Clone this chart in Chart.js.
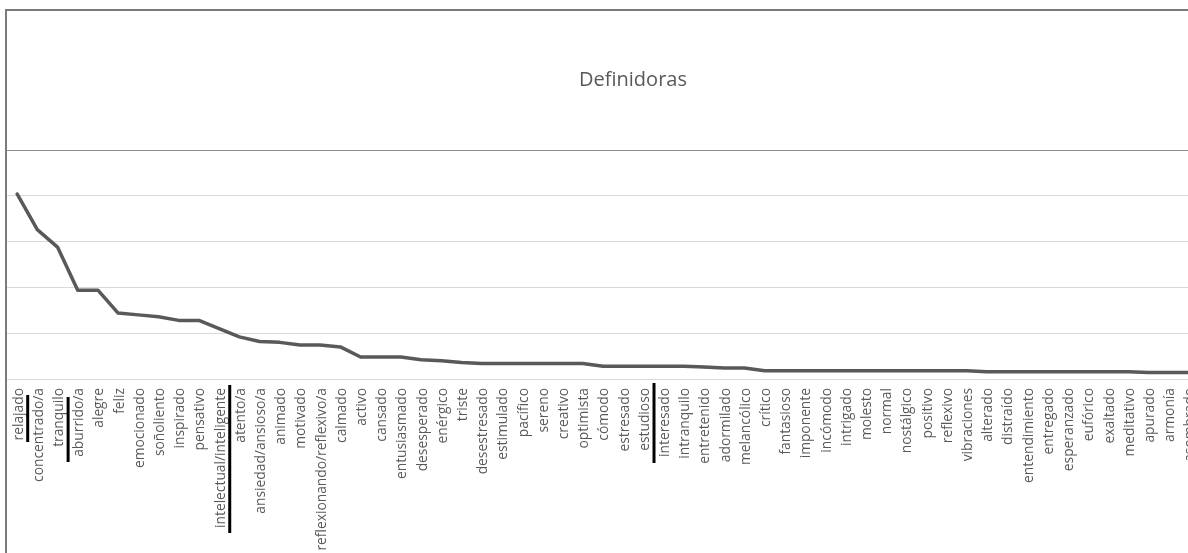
<!DOCTYPE html>
<html>
<head>
<meta charset="utf-8">
<script src="https://cdn.jsdelivr.net/npm/chart.js@4"></script>
<style>
  html, body { margin: 0; padding: 0; background: #fff; overflow: hidden; }
  #marco {
    position: absolute; left: 5px; top: 9px;
    border-left: 2px solid #7a7a7a; border-top: 2px solid #7a7a7a;
  }
  canvas { display: block; }
</style>
</head>
<body>
<div id="marco"><canvas id="definidoras" width="1252" height="560"></canvas></div>
<script>
const categorias = [
  'relajado', 'concentrado/a', 'tranquilo', 'aburrido/a', 'alegre', 'feliz',
  'emocionado', 'soñoliento', 'inspirado', 'pensativo', 'intelectual/inteligente',
  'atento/a', 'ansiedad/ansioso/a', 'animado', 'motivado', 'reflexionando/reflexivo/a',
  'calmado', 'activo', 'cansado', 'entusiasmado', 'desesperado', 'enérgico', 'triste',
  'desestresado', 'estimulado', 'pacífico', 'sereno', 'creativo', 'optimista',
  'cómodo', 'estresado', 'estudioso', 'interesado', 'intranquilo', 'entretenido',
  'adormilado', 'melancólico', 'crítico', 'fantasioso', 'imponente', 'incómodo',
  'intrigado', 'molesto', 'normal', 'nostálgico', 'positivo', 'reflexivo',
  'vibraciones', 'alterado', 'distraído', 'entendimiento', 'entregado',
  'esperanzado', 'eufórico', 'exaltado', 'meditativo', 'apurado', 'armonía',
  'asombrado'
];

const valores = [
  202, 163, 144, 97, 97, 72, 70, 68, 64, 64, 55,
  46, 41, 40, 37, 37, 35, 24, 24, 24, 21, 20, 18,
  17, 17, 17, 17, 17, 17,
  14, 14, 14, 14, 14, 13, 12, 12,
  9, 9, 9, 9, 9, 9, 9, 9, 9, 9, 9,
  8, 8, 8, 8, 8, 8, 8, 8,
  7, 7, 7
];

const yTicks = [0, 50, 100, 150, 200, 250];

// cortes de grupo marcados a mano bajo el eje
const cortes = ['relajado', 'tranquilo', 'intelectual/inteligente', 'estudioso'];

const marcasCorte = {
  id: 'marcasCorte',
  afterDraw(chart) {
    const x = chart.scales.x;
    const base = chart.chartArea.bottom;
    const tramos = { 'relajado': [16, 63], 'tranquilo': [18, 83],
                     'intelectual/inteligente': [6, 154], 'estudioso': [4, 84] };
    const c = chart.ctx;
    c.save();
    c.strokeStyle = '#000';
    c.lineWidth = 3;
    cortes.forEach(nombre => {
      const i = categorias.indexOf(nombre);
      const px = (x.getPixelForValue(i) + x.getPixelForValue(i + 1)) / 2 + 0.5;
      const t = tramos[nombre];
      c.beginPath();
      c.moveTo(px, base + t[0]);
      c.lineTo(px, base + t[1]);
      c.stroke();
    });
    c.restore();
  }
};

new Chart(document.getElementById('definidoras'), {
  type: 'line',
  data: {
    labels: categorias,
    datasets: [{
      label: 'Definidoras',
      data: valores,
      borderColor: '#595959',
      borderWidth: 3.5,
      borderJoinStyle: 'round',
      borderCapStyle: 'round',
      pointRadius: 0,
      tension: 0
    }]
  },
  options: {
    responsive: false,
    animation: false,
    devicePixelRatio: 1,
    layout: { padding: 0 },
    plugins: {
      legend: { display: false },
      tooltip: { enabled: false },
      title: {
        display: true,
        text: 'Definidoras',
        color: '#595959',
        font: { family: 'Open Sans', size: 20, weight: 'normal' },
        padding: { top: 57, bottom: 58 }
      }
    },
    scales: {
      x: {
        offset: true,
        grid: { display: false },
        border: { display: false },
        ticks: {
          autoSkip: false,
          minRotation: 90,
          maxRotation: 90,
          padding: 1,
          labelOffset: 1.5,
          color: '#595959',
          font: { family: 'Open Sans', size: 13.8 }
        },
        afterFit(s) { s.height = 192; }
      },
      y: {
        min: 0,
        max: yTicks[yTicks.length - 1],
        afterBuildTicks(s) { s.ticks = yTicks.map(v => ({ value: v })); },
        ticks: { display: false },
        border: { display: false },
        grid: {
          drawTicks: false,
          color: ctx => ctx.tick && ctx.tick.value === 250 ? '#8c8c8c' : '#d9d9d9'
        },
        afterFit(s) { s.width = 0; }
      },
      // margen derecho vacío del área de trazado
      margen: {
        position: 'right',
        display: true,
        ticks: { display: false },
        grid: { display: false },
        border: { display: false },
        afterFit(s) { s.width = 60; }
      }
    }
  },
  plugins: [marcasCorte]
});
</script>
</body>
</html>
